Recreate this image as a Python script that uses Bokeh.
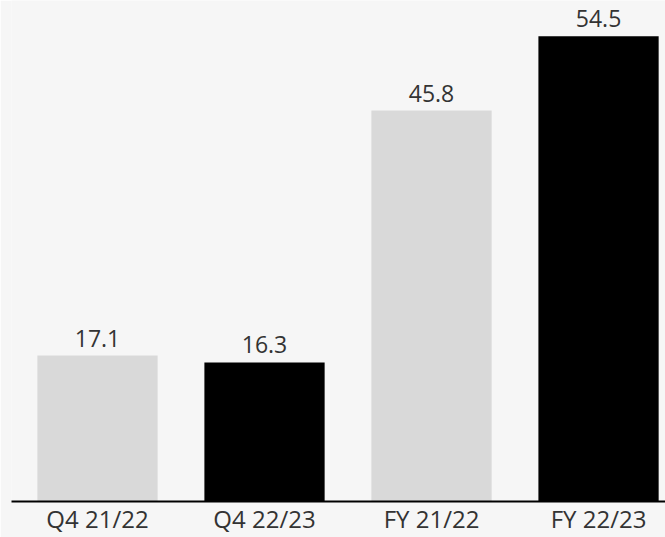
from bokeh.plotting import figure
from bokeh.models import ColumnDataSource, FixedTicker, LabelSet, Range1d
from bokeh.core.properties import value
from bokeh.embed import file_html
from bokeh.resources import INLINE

categories = ["Q4 21/22", "Q4 22/23", "FY 21/22", "FY 22/23"]
values = [17.1, 16.3, 45.8, 54.5]
colors = ["#d9d9d9", "#000000", "#d9d9d9", "#000000"]

xs = list(range(len(categories)))
src = ColumnDataSource(dict(x=xs, top=values, color=colors,
                            label=[f"{v:.1f}" for v in values]))

p = figure(width=665, height=537, output_backend="svg", toolbar_location=None,
           x_range=Range1d(-0.515, 3.401), y_range=Range1d(0, 58.7),
           min_border_left=11, min_border_right=0, min_border_top=0, min_border_bottom=35)
p.background_fill_color = "#f6f6f6"
p.border_fill_color = "#f6f6f6"
p.outline_line_color = None

p.vbar(x="x", top="top", width=0.72, color="color", line_color=None, source=src)

labels = LabelSet(x="x", y="top", text="label", source=src, text_align="center",
                  text_baseline="alphabetic", y_offset=9, text_font_size="23px",
                  text_font=value("Open Sans"), text_color="#333333")
p.add_layout(labels)

p.yaxis.visible = False
p.xgrid.grid_line_color = None
p.ygrid.grid_line_color = None
p.xaxis.ticker = FixedTicker(ticks=xs)
p.xaxis.major_label_overrides = {i: c for i, c in enumerate(categories)}
p.xaxis.axis_line_color = "#000000"
p.xaxis.axis_line_width = 2
p.xaxis.major_tick_line_color = None
p.xaxis.major_tick_out = 0
p.xaxis.major_tick_in = 0
p.xaxis.minor_tick_line_color = None
p.xaxis.minor_tick_out = 0
p.xaxis.major_label_text_font = "Open Sans"
p.xaxis.major_label_text_font_size = "24px"
p.xaxis.major_label_text_color = "#333333"
p.xaxis.major_label_standoff = 0

open("out.html", "w").write(file_html(p, INLINE))
